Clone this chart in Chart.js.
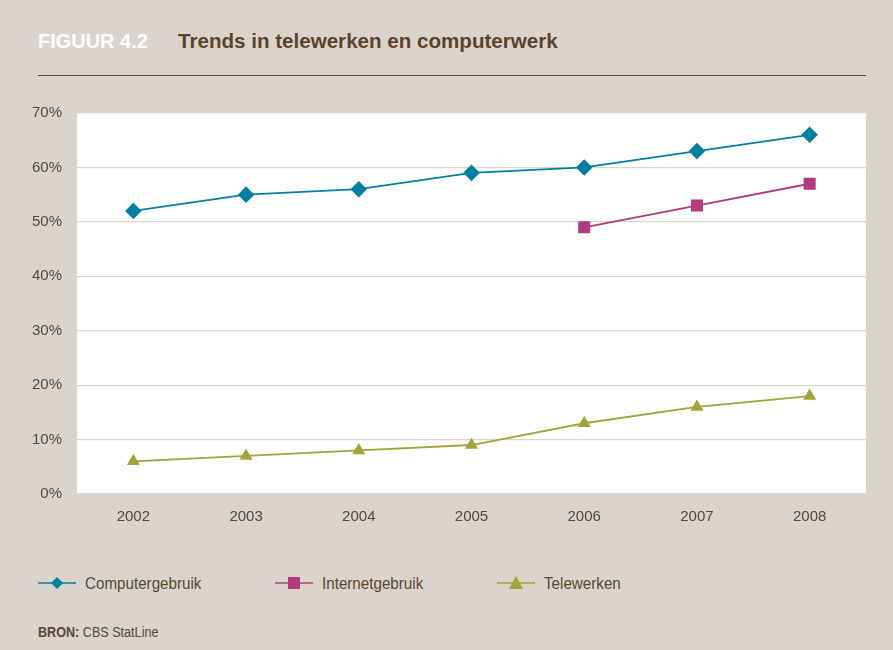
<!DOCTYPE html>
<html>
<head>
<meta charset="utf-8">
<script src="https://cdn.jsdelivr.net/npm/chart.js@4"></script>
<style>
  html, body { margin: 0; padding: 0; }
  body { width: 893px; height: 650px; background: #dbd4cc; position: relative; overflow: hidden;
         font-family: "Liberation Sans", Arial, sans-serif; }
  #title { position: absolute; left: 38px; top: 29px; font-size: 21px; font-weight: bold; white-space: nowrap; }
  #title .fig { color: #ffffff; display: inline-block; transform: scaleX(0.95); transform-origin: left center; }
  #title .txt { color: #5c432b; position: absolute; left: 140px; top: 0;
                display: inline-block; transform: scaleX(0.98); transform-origin: left center; }
  #rule { position: absolute; left: 38px; top: 75px; width: 828px; height: 0; border-top: 1.5px solid #5c432b; }
  #chartBox { position: absolute; left: 0; top: 89px; width: 893px; height: 445px; }
  #legend { position: absolute; top: 573px; left: 38px; font-size: 16.5px; color: #5a4632; }
  .item { position: absolute; white-space: nowrap; display: flex; align-items: center; }
  .item svg { margin-right: 9px; }
  #source { position: absolute; left: 38px; top: 624px; font-size: 14px; color: #5a4632;
            transform: scaleX(0.9); transform-origin: left center; white-space: nowrap; }
</style>
</head>
<body>
<div id="title"><span class="fig">FIGUUR 4.2</span><span class="txt">Trends in telewerken en computerwerk</span></div>
<div id="rule"></div>
<div id="chartBox"><canvas id="chart"></canvas></div>
<div id="legend"></div>
<div id="source"><b>BRON:</b> CBS StatLine</div>
<script>
// Data
const years = ["2002", "2003", "2004", "2005", "2006", "2007", "2008"];
const computergebruik = [52, 55, 56, 59, 60, 63, 66];
const internetgebruik = [null, null, null, null, 49, 53, 57];
const telewerken = [6, 7, 8, 9, 13, 16, 18];
const yTicks = [0, 10, 20, 30, 40, 50, 60, 70];

const seriesInfo = [
    { label: "Computergebruik", data: computergebruik, color: "#00809e", style: "rectRot", radius: 8.3, left: 0 },
    { label: "Internetgebruik", data: internetgebruik, color: "#b23a7f", style: "rect", radius: 8.5, left: 237 },
    { label: "Telewerken", data: telewerken, color: "#a3a33a", style: "triangle", radius: 7.5, left: 459 },
];

const textColor = "#5a4632";

// white plot background
const plotBg = {
    id: "plotBg",
    beforeDraw(chart) {
        const a = chart.chartArea;
        const ctx = chart.ctx;
        ctx.save();
        ctx.fillStyle = "#ffffff";
        ctx.fillRect(a.left, a.top, a.right - a.left, a.bottom - a.top);
        ctx.restore();
    },
};

new Chart(document.getElementById("chart"), {
    type: "line",
    data: {
        labels: years,
        datasets: seriesInfo.map((s) => ({
            label: s.label,
            data: s.data,
            borderColor: s.color,
            backgroundColor: s.color,
            borderWidth: 1.8,
            pointStyle: s.style,
            pointRadius: s.radius,
            pointBorderWidth: 0,
            pointBackgroundColor: s.color,
            tension: 0,
            spanGaps: false,
        })),
    },
    options: {
        responsive: true,
        maintainAspectRatio: false,
        animation: false,
        layout: { padding: { top: 23, right: 27, left: 0, bottom: 0 } },
        plugins: { legend: { display: false }, tooltip: { enabled: false } },
        scales: {
            x: {
                offset: true,
                grid: { display: false, drawTicks: false },
                border: { display: false },
                ticks: { color: textColor, font: { family: "Liberation Sans, Arial", size: 15 }, padding: 14 },
                afterFit(scale) { scale.height = 40; },
            },
            y: {
                min: 0,
                max: 70,
                afterBuildTicks(scale) { scale.ticks = yTicks.map((v) => ({ value: v })); },
                grid: { color: "#ddd5cc", lineWidth: 1.2, drawTicks: false },
                border: { display: false },
                ticks: {
                    color: textColor,
                    font: { family: "Liberation Sans, Arial", size: 15 },
                    padding: 15,
                    callback: (v) => v + "%",
                },
                afterFit(scale) { scale.width = 77; },
            },
        },
    },
    plugins: [plotBg],
});

// legend built from the same series info
const legend = document.getElementById("legend");
seriesInfo.forEach((s) => {
    const item = document.createElement("div");
    item.className = "item";
    item.style.left = s.left + "px";
    let marker = "";
    if (s.style === "rectRot") marker = `<polygon points="19,4 25,10 19,16 13,10" fill="${s.color}"/>`;
    if (s.style === "rect") marker = `<rect x="13" y="4" width="12" height="12" fill="${s.color}"/>`;
    if (s.style === "triangle") marker = `<polygon points="19,3 26,16 12,16" fill="${s.color}"/>`;
    item.innerHTML = `<svg width="38" height="20"><line x1="0" y1="10" x2="38" y2="10" stroke="${s.color}" stroke-width="1.6"/>${marker}</svg><span style="display:inline-block;transform:scaleX(0.92);transform-origin:left center">${s.label}</span>`;
    legend.appendChild(item);
});
</script>
</body>
</html>
